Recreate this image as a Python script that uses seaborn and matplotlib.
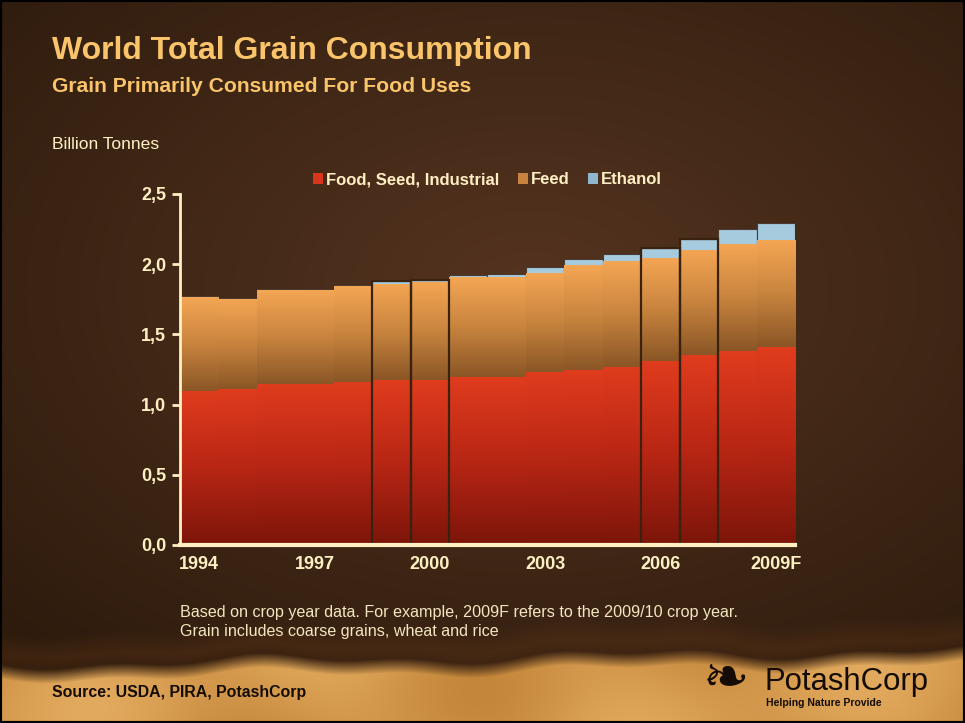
import numpy as np
import pandas as pd
import matplotlib
matplotlib.use("Agg")
import matplotlib.pyplot as plt
import seaborn as sns
from matplotlib.patches import Patch, Rectangle
from matplotlib.colors import LinearSegmentedColormap, to_rgb

# data (billion tonnes)
years = ["1994", "1995", "1996", "1997", "1998", "1999", "2000", "2001",
         "2002", "2003", "2004", "2005", "2006", "2007", "2008", "2009F"]
food = [1.10, 1.11, 1.15, 1.15, 1.16, 1.175, 1.175, 1.20,
        1.20, 1.23, 1.245, 1.27, 1.31, 1.35, 1.38, 1.41]
feed = [0.664, 0.643, 0.666, 0.668, 0.682, 0.687, 0.696, 0.707,
        0.707, 0.71, 0.746, 0.751, 0.736, 0.748, 0.762, 0.762]
ethanol = [0.010, 0.005, 0.010, 0.008, 0.012, 0.020, 0.014, 0.014,
           0.026, 0.038, 0.043, 0.054, 0.069, 0.083, 0.107, 0.121]
shown_years = ["1994", "1997", "2000", "2003", "2006", "2009F"]
outlined_years = ["1999", "2000", "2006", "2007"]

CREAM = "#fff0c4"
GOLD = "#f9c46a"
NARROW = ["Liberation Sans Narrow", "Liberation Sans", "DejaVu Sans"]


def make_background(h, w):
    yy, xx = np.mgrid[0:h, 0:w]
    fx, fy = xx / w, yy / h
    dark = np.array(to_rgb("#2c1a0c"))
    warm = np.array(to_rgb("#553420"))
    r = np.sqrt(((fx - 0.55) / 0.8) ** 2 + ((fy - 0.4) / 0.7) ** 2)
    t = np.clip(1 - r, 0, 1)[..., None]
    img = dark + (warm - dark) * t
    # sandy strip at the bottom
    edge = 0.918 - 0.02 * fx + 0.006 * np.sin(fx * 17) + 0.004 * np.sin(fx * 41)
    sand_lo = np.array(to_rgb("#c4863a"))
    sand_hi = np.array(to_rgb("#e2aa5e"))
    s = (0.5 + 0.25 * np.sin(fx * 9 + fy * 20) + 0.25 * np.sin(fx * 23 - fy * 7))[..., None]
    sand = sand_lo + (sand_hi - sand_lo) * s
    blend = np.clip((fy - edge) / 0.02, 0, 1)[..., None]
    shadow = np.clip(1 - np.abs(fy - edge + 0.015) / 0.03, 0, 1)[..., None] * (1 - blend)
    img = img * (1 - 0.3 * shadow) + np.array(to_rgb("#6a3c18")) * 0.3 * shadow
    return img * (1 - blend) + sand * blend


def add_gradients(ax, patches, lows, highs, cmap, z):
    grad = np.linspace(0, 1, 256).reshape(-1, 1)
    for p, lo, hi in zip(patches, lows, highs):
        x0 = p.get_x()
        im = ax.imshow(grad, extent=(x0, x0 + p.get_width(), lo, hi), origin="lower",
                       cmap=cmap, aspect="auto", zorder=z, interpolation="bilinear")
        im.set_clip_path(p)


def main():
    df = pd.DataFrame({"year": years, "food": food, "feed": feed, "ethanol": ethanol})
    df["orange_top"] = df["food"] + df["feed"]
    df["total"] = df["orange_top"] + df["ethanol"]

    fig = plt.figure(figsize=(9.65, 7.23), dpi=100)
    bg = fig.add_axes([0, 0, 1, 1])
    bg.imshow(make_background(723, 965), aspect="auto", interpolation="bilinear")
    bg.axis("off")
    fig.add_artist(Rectangle((0, 0), 1, 1, transform=fig.transFigure, fill=False,
                             edgecolor="black", linewidth=3))

    ax = fig.add_axes([0.1865, 0.2462, 0.6373, 0.4855])
    ax.patch.set_alpha(0)

    sns.barplot(data=df, x="year", y="total", order=years, color="#a6cade", width=1.0,
                saturation=1, edgecolor="#4a3a30", linewidth=0.8, zorder=1, ax=ax)
    n0 = len(ax.patches)
    sns.barplot(data=df, x="year", y="orange_top", order=years, color="#e09a4c", width=1.0,
                saturation=1, linewidth=0, zorder=2, ax=ax)
    orange_patches = ax.patches[n0:]
    n1 = len(ax.patches)
    sns.barplot(data=df, x="year", y="food", order=years, color="#d8361a", width=1.0,
                saturation=1, linewidth=0, zorder=3, ax=ax)
    red_patches = ax.patches[n1:]

    orange_cmap = LinearSegmentedColormap.from_list("o", ["#8a5626", "#c8843e", "#f4a654"])
    red_cmap = LinearSegmentedColormap.from_list("r", ["#7c150a", "#b82614", "#e03c1e"])
    add_gradients(ax, orange_patches, df["food"], df["orange_top"], orange_cmap, 2.5)
    add_gradients(ax, red_patches, [0] * len(df), df["food"], red_cmap, 3.5)

    sub = df[df["year"].isin(outlined_years)]
    sns.barplot(data=sub, x="year", y="total", order=years, width=1.0, fill=False,
                edgecolor="#3a2210", linewidth=1.6, zorder=4, ax=ax)

    ax.set_xlim(-0.5, len(years) - 0.5)
    ax.set_ylim(0, 2.5)
    ax.set_yticks([0, 0.5, 1.0, 1.5, 2.0, 2.5])
    ax.set_yticklabels([f"{v:.1f}".replace(".", ",") for v in ax.get_yticks()],
                       family=NARROW, fontweight="bold", fontsize=13, color=CREAM)
    ax.set_xticks([years.index(y) for y in shown_years])
    ax.set_xticklabels(shown_years, family=NARROW, fontweight="bold", fontsize=13, color=CREAM)
    ax.tick_params(axis="y", length=6, width=2, color=CREAM, pad=4)
    ax.tick_params(axis="x", length=0, pad=8)
    ax.set_xlabel("")
    ax.set_ylabel("")
    for side in ["top", "right"]:
        ax.spines[side].set_visible(False)
    ax.spines["left"].set_color(CREAM)
    ax.spines["left"].set_linewidth(2)
    ax.spines["bottom"].set_color(CREAM)
    ax.spines["bottom"].set_linewidth(3)
    ax.spines["left"].set_zorder(6)
    ax.spines["bottom"].set_zorder(6)

    handles = [Patch(facecolor="#d8361a", label="Food, Seed, Industrial"),
               Patch(facecolor="#c8843e", label="Feed"),
               Patch(facecolor="#8fb6cc", label="Ethanol")]
    ax.legend(handles=handles, loc="center", bbox_to_anchor=(0.5, 1.04), ncol=3,
              frameon=False, handlelength=0.6, handleheight=0.7, handletextpad=0.2,
              columnspacing=1.1, prop={"family": NARROW, "weight": "bold", "size": 12},
              labelcolor=CREAM)

    fig.text(0.054, 0.930, "World Total Grain Consumption", fontsize=23, fontweight="bold",
             color=GOLD, va="center", family="Liberation Sans")
    fig.text(0.054, 0.881, "Grain Primarily Consumed For Food Uses", fontsize=15.2,
             fontweight="bold", color=GOLD, va="center", family="Liberation Sans")
    fig.text(0.054, 0.7995, "Billion Tonnes", fontsize=12.6, color=CREAM, va="center",
             family="Liberation Sans")
    fig.text(0.1865, 0.1535,
             "Based on crop year data. For example, 2009F refers to the 2009/10 crop year.",
             fontsize=11.6, color="#f4e6c0", va="center", family=NARROW)
    fig.text(0.1865, 0.1259, "Grain includes coarse grains, wheat and rice",
             fontsize=11.6, color="#f4e6c0", va="center", family=NARROW)
    fig.text(0.054, 0.0415, "Source: USDA, PIRA, PotashCorp", fontsize=11.4,
             fontweight="bold", color="#140c04", va="center", family=NARROW)
    fig.text(0.792, 0.057, "PotashCorp", fontsize=22.4, color="#140c04", va="center",
             family=NARROW)
    fig.text(0.794, 0.027, "Helping Nature Provide", fontsize=7.5, fontweight="bold",
             color="#140c04", va="center", family=NARROW)
    fig.text(0.728, 0.060, "\u2767", fontsize=40, color="#140c04", va="center",
             family="DejaVu Sans")

    fig.savefig("out.png", dpi=100)
    plt.close(fig)


if __name__ == "__main__":
    main()
